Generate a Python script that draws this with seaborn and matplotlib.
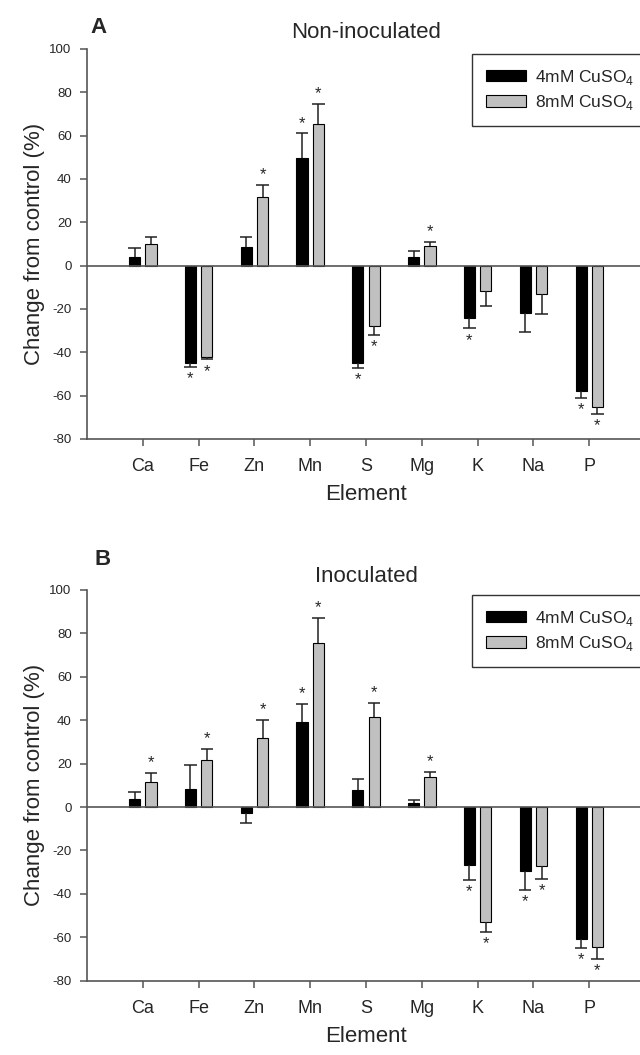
import numpy as np
import pandas as pd
import seaborn as sns
import matplotlib.pyplot as plt

# Element categories and treatments
elements = ['Ca', 'Fe', 'Zn', 'Mn', 'S', 'Mg', 'K', 'Na', 'P']
treatments = ['4mM CuSO$_\\mathregular{4}$', '8mM CuSO$_\\mathregular{4}$']

# Panel A: non-inoculated (mean change %, error, significance)
a_4mm = [3.9, -44.8, 8.6, 49.6, -44.8, 4.2, -24.3, -22.0, -57.9]
a_4mm_err = [4.1, 2.0, 4.7, 11.4, 2.5, 2.7, 4.7, 8.8, 3.3]
a_4mm_sig = [0, 1, 0, 1, 1, 0, 1, 0, 1]
a_8mm = [9.9, -42.1, 31.6, 65.2, -27.9, 9.1, -11.9, -13.3, -65.3]
a_8mm_err = [3.4, 1.2, 5.5, 9.4, 4.1, 1.8, 6.7, 9.0, 3.1]
a_8mm_sig = [0, 1, 1, 1, 1, 1, 0, 0, 1]

# Panel B: inoculated
b_4mm = [3.5, 8.3, -2.8, 39.3, 7.8, 1.8, -26.7, -29.3, -61.0]
b_4mm_err = [3.3, 10.9, 4.7, 8.0, 4.9, 1.6, 6.9, 9.1, 3.7]
b_4mm_sig = [0, 0, 0, 1, 0, 0, 1, 1, 1]
b_8mm = [11.7, 21.5, 31.6, 75.7, 41.3, 13.7, -52.8, -27.0, -64.4]
b_8mm_err = [4.1, 5.4, 8.6, 11.2, 6.8, 2.4, 4.7, 6.0, 5.6]
b_8mm_sig = [1, 1, 1, 1, 1, 1, 1, 1, 1]

yticks = [100, 80, 60, 40, 20, 0, -20, -40, -60, -80]

sns.set_style('white')
plt.rcParams['font.family'] = ['Liberation Sans', 'DejaVu Sans']
plt.rcParams['mathtext.fontset'] = 'custom'
plt.rcParams['mathtext.rm'] = 'Liberation Sans'
plt.rcParams['axes.unicode_minus'] = False

fig = plt.figure(figsize=(6.4, 10.55), dpi=100)
axA = fig.add_axes([0.1359, 0.5839, 0.872, 0.3697])
axB = fig.add_axes([0.1359, 0.0704, 0.872, 0.3704])


def draw_panel(ax, v4, e4, s4, v8, e8, s8, title, tpad):
    df = pd.DataFrame({
        'Element': elements * 2,
        'Change': v4 + v8,
        'Treatment': [treatments[0]] * 9 + [treatments[1]] * 9,
    })
    sns.barplot(data=df, x='Element', y='Change', hue='Treatment',
                palette=['black', '#c0c0c0'], edgecolor='black', linewidth=0.8,
                width=0.585, gap=0.316, errorbar=None, ax=ax)

    # one-sided error bars and significance stars
    for cont, errs, sigs in zip(ax.containers, [e4, e8], [s4, s8]):
        for bar, err, sig in zip(cont, errs, sigs):
            x = bar.get_x() + bar.get_width() / 2
            val = bar.get_height() if bar.get_y() == 0 else bar.get_y()
            sgn = 1 if val >= 0 else -1
            end = val + sgn * err
            ax.vlines(x, val, end, color='#222222', lw=1.1, zorder=3)
            ax.hlines(end, x - 0.11, x + 0.11, color='#222222', lw=1.1, zorder=3)
            if sig:
                if sgn > 0:
                    ax.annotate('*', (x, end), xytext=(0, 2), textcoords='offset points',
                                ha='center', va='bottom', fontsize=12)
                else:
                    ax.annotate('*', (x, end), xytext=(0, -3), textcoords='offset points',
                                ha='center', va='top', fontsize=12)

    ax.axhline(0, color='#555555', lw=1.2, zorder=2)
    ax.set_xlim(-1, 9)
    ax.set_ylim(-80, 100)
    ax.set_yticks(yticks)
    ax.set_title(title, fontsize=16, pad=tpad)
    ax.set_xlabel('Element', fontsize=16, labelpad=6)
    ax.set_ylabel('Change from control (%)', fontsize=16, labelpad=3)
    ax.tick_params(axis='x', labelsize=13, length=5, width=1.1, color='#555555',
                   direction='out', pad=9, bottom=True)
    ax.tick_params(axis='y', labelsize=9.5, length=5, width=1.1, color='#555555',
                   direction='out', pad=6, left=True)
    sns.despine(ax=ax)
    for sp in ['left', 'bottom']:
        ax.spines[sp].set_color('#555555')
        ax.spines[sp].set_linewidth(1.2)

    leg = ax.legend(loc='upper left', bbox_to_anchor=(0.69, 0.987), fontsize=12.5,
                    handlelength=2.3, handleheight=0.63, handletextpad=0.5,
                    labelspacing=0.35, borderpad=0.8, borderaxespad=0, fancybox=False,
                    edgecolor='#333333', framealpha=1)
    leg.get_frame().set_linewidth(1.0)


draw_panel(axA, a_4mm, a_4mm_err, a_4mm_sig, a_8mm, a_8mm_err, a_8mm_sig,
           'Non-inoculated', 8)
draw_panel(axB, b_4mm, b_4mm_err, b_4mm_sig, b_8mm, b_8mm_err, b_8mm_sig,
           'Inoculated', 6)

fig.text(90 / 640, 1 - 33 / 1055, 'A', fontsize=16, fontweight='bold', va='baseline')
fig.text(94 / 640, 1 - 565 / 1055, 'B', fontsize=16, fontweight='bold', va='baseline')

fig.savefig('out.png', dpi=100)
